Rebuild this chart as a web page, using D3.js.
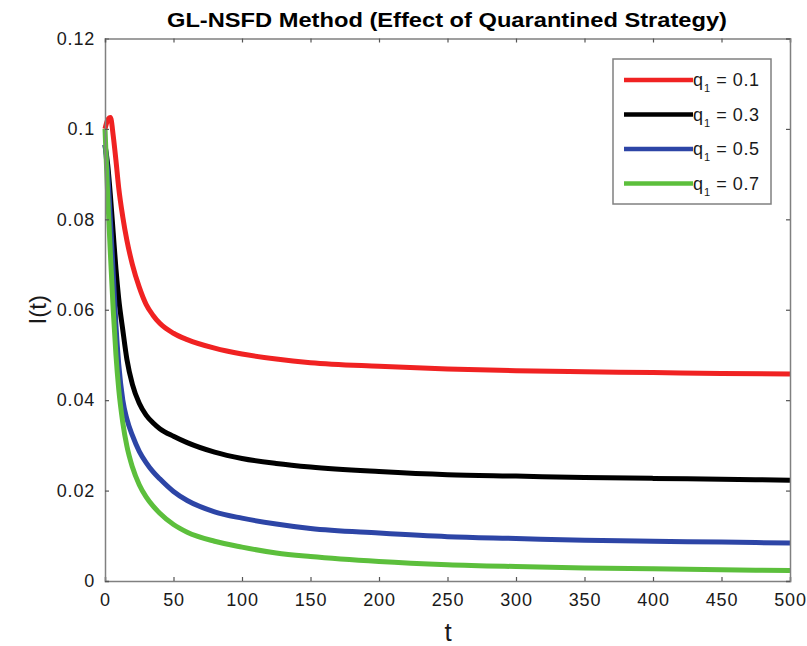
<!DOCTYPE html>
<html>
<head>
<meta charset="utf-8">
<script src="https://cdn.jsdelivr.net/npm/d3@7"></script>
<style>
  body { margin: 0; background: #fff; }
  svg { font-family: "Liberation Sans", Arial, sans-serif; }
</style>
</head>
<body>
<script>
// time samples shared by all series
var tVals = [0, 2, 4, 6, 8, 10, 13, 16, 20, 25, 30, 35, 40, 50, 60, 80, 100, 125, 150, 200, 250, 300, 350, 400, 450, 500];

var q01 = [0.100, 0.102, 0.1025, 0.0985, 0.093, 0.087, 0.0805, 0.0753, 0.0700, 0.0650, 0.0612, 0.0588, 0.0570, 0.0548, 0.0534, 0.0515, 0.0502, 0.0491, 0.0483, 0.0475, 0.0469, 0.0465, 0.0463, 0.0461, 0.0459, 0.0458];
var q03 = [0.0965, 0.092, 0.085, 0.077, 0.069, 0.0625, 0.0555, 0.0490, 0.0435, 0.0393, 0.0367, 0.0350, 0.0337, 0.0320, 0.0306, 0.0285, 0.0271, 0.0260, 0.0252, 0.0242, 0.0235, 0.0232, 0.0229, 0.0227, 0.0225, 0.0223];
var q05 = [0.0965, 0.090, 0.0795, 0.068, 0.0565, 0.0480, 0.0400, 0.0358, 0.0322, 0.0287, 0.0262, 0.0242, 0.0226, 0.0198, 0.0178, 0.0153, 0.0139, 0.0126, 0.0116, 0.0106, 0.0098, 0.0094, 0.0090, 0.0088, 0.0086, 0.0084];
var q07 = [0.100, 0.085, 0.072, 0.060, 0.050, 0.0425, 0.0350, 0.0298, 0.0252, 0.0213, 0.0186, 0.0166, 0.0150, 0.0125, 0.0108, 0.0088, 0.0075, 0.0062, 0.0054, 0.0043, 0.0036, 0.0032, 0.0029, 0.0027, 0.0025, 0.0023];

var labels = ["0.1", "0.3", "0.5", "0.7"];
var colors = ["#f02222", "#000000", "#2d45a6", "#5cbf3c"];
var xTicks = [0, 50, 100, 150, 200, 250, 300, 350, 400, 450, 500];
var yTicks = [0, 0.02, 0.04, 0.06, 0.08, 0.1, 0.12];

var series = [q01, q03, q05, q07].map(function(v, i) {
    return { label: labels[i], color: colors[i],
             pts: tVals.map(function(t, j) { return [t, v[j]]; }) };
});

var W = 807, H = 646;
var margin = {top: 38.5, right: 17, bottom: 65, left: 105};
var width = W - margin.left - margin.right,
    height = H - margin.top - margin.bottom;

var svg = d3.select("body").append("svg")
    .attr("width", W).attr("height", H);

var g = svg.append("g")
    .attr("transform", "translate(" + margin.left + "," + margin.top + ")");

var x = d3.scaleLinear().domain([0, 500]).range([0, width]);
var y = d3.scaleLinear().domain([0, 0.12]).range([height, 0]);

var axisColor = "#808080";

// curves (drawn under the box)
var line = d3.line()
    .x(function(d) { return x(d[0]); })
    .y(function(d) { return y(d[1]); })
    .curve(d3.curveMonotoneX);

g.selectAll(".curve")
  .data(series)
  .enter().append("path")
    .attr("class", "curve")
    .attr("d", function(d) { return line(d.pts); })
    .attr("fill", "none")
    .attr("stroke", function(d) { return d.color; })
    .attr("stroke-width", 5)
    .attr("stroke-linejoin", "round");

// axes, ticks inward
var xAxis = d3.axisBottom(x).tickValues(xTicks).tickSize(-4).tickPadding(12);
var yAxis = d3.axisLeft(y).tickValues(yTicks).tickSize(-4).tickPadding(10)
    .tickFormat(function(d) { return d === 0 ? "0" : String(+d.toFixed(2)); });

var xa = g.append("g").attr("transform", "translate(0," + height + ")").call(xAxis);
var ya = g.append("g").call(yAxis);
var xt = g.append("g").call(d3.axisTop(x).tickValues(xTicks).tickSize(-4).tickFormat(""));
var yr = g.append("g").attr("transform", "translate(" + width + ",0)")
    .call(d3.axisRight(y).tickValues(yTicks).tickSize(-4).tickFormat(""));

[xa, ya, xt, yr].forEach(function(a) {
    a.select(".domain").attr("stroke", axisColor).attr("stroke-width", 1.5);
    a.selectAll(".tick line").attr("stroke", "#555").attr("stroke-width", 1.2);
    a.selectAll(".tick text").attr("fill", "#1a1a1a")
        .style("font-size", "18px").style("letter-spacing", "0.8px");
});

// title and axis labels
svg.append("text")
    .attr("x", 447).attr("y", 27)
    .attr("text-anchor", "middle")
    .attr("textLength", 560).attr("lengthAdjust", "spacingAndGlyphs")
    .style("font-size", "21px").style("font-weight", "bold")
    .text("GL-NSFD Method (Effect of Quarantined Strategy)");

svg.append("text")
    .attr("transform", "translate(46," + (margin.top + height / 2) + ") rotate(-90)")
    .attr("text-anchor", "middle")
    .style("font-size", "24px").attr("fill", "#1a1a1a")
    .text("I(t)");

svg.append("text")
    .attr("x", 448).attr("y", 641)
    .attr("text-anchor", "middle")
    .style("font-size", "26px").attr("fill", "#1a1a1a")
    .text("t");

// legend
var lg = svg.append("g").attr("transform", "translate(613,59)");
lg.append("rect")
    .attr("width", 158).attr("height", 145)
    .attr("fill", "#fff").attr("stroke", axisColor).attr("stroke-width", 1.5);

var item = lg.selectAll(".legend")
    .data(series)
  .enter().append("g")
    .attr("class", "legend")
    .attr("transform", function(d, i) { return "translate(0," + (21 + i * 34.5) + ")"; });

item.append("line")
    .attr("x1", 11).attr("x2", 80)
    .attr("stroke", function(d) { return d.color; })
    .attr("stroke-width", 4.5);

var lt = item.append("text")
    .attr("x", 80).attr("y", 6)
    .style("font-size", "18px").attr("fill", "#1a1a1a");
lt.append("tspan").text("q");
lt.append("tspan").attr("dy", 6).attr("dx", 1).style("font-size", "11px").text("1");
lt.append("tspan").attr("dy", -6).attr("dx", 6)
    .style("letter-spacing", "0.6px")
    .text(function(d) { return "= " + d.label; });
</script>
</body>
</html>
